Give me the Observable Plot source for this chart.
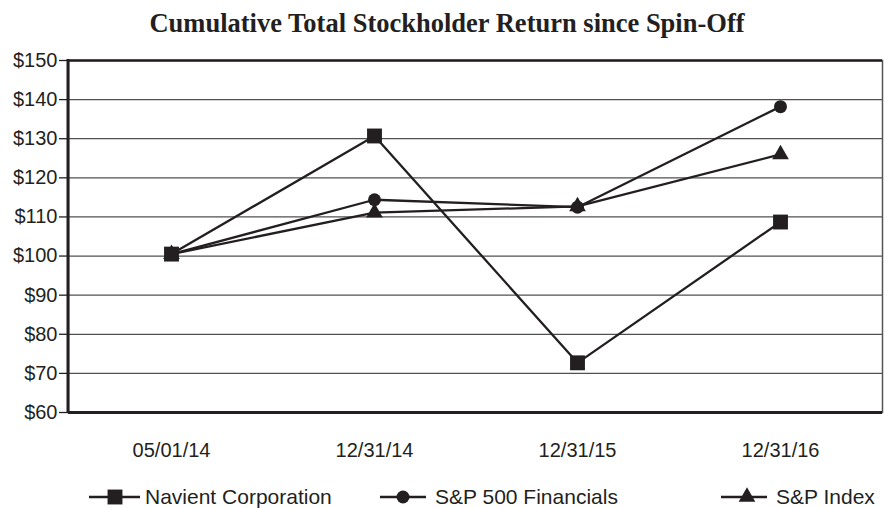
<!DOCTYPE html>
<html>
<head>
<meta charset="utf-8">
<script src="https://cdn.jsdelivr.net/npm/d3@7"></script>
<script src="https://cdn.jsdelivr.net/npm/@observablehq/plot@0.6"></script>
<style>
  body { margin: 0; background: #fff; }
  #wrap { position: relative; width: 884px; height: 508px; overflow: hidden;
          font-family: "Liberation Sans", Arial, Helvetica, sans-serif; color: #231f20; }
  #title { position: absolute; left: 0; width: 894px; top: 7px; text-align: center;
           font-family: "Liberation Serif", "Times New Roman", serif; font-weight: bold; font-size: 26.5px; line-height: 32px; }
  #chart { position: absolute; left: 0; top: 0; }
  .leg { position: absolute; top: 484px; height: 26px; display: flex; align-items: center; font-size: 21px; white-space: nowrap; }
  .leg svg { display: block; }
</style>
</head>
<body>
<div id="wrap">
  <div id="chart"></div>
  <div id="title">Cumulative Total Stockholder Return since Spin-Off</div>
  <div id="legend"></div>
</div>
<script>
const dates = ["05/01/14", "12/31/14", "12/31/15", "12/31/16"];
const seriesNames = ["Navient Corporation", "S&P 500 Financials", "S&P Index"];
const navient = [100.5, 130.7, 72.7, 108.7];
const financials = [100.5, 114.4, 112.5, 138.2];
const spIndex = [100.5, 111.1, 112.7, 126.0];
const yTicks = [60, 70, 80, 90, 100, 110, 120, 130, 140, 150];

const ink = "#231f20";
const seriesValues = [navient, financials, spIndex];
const data = [];
seriesNames.forEach((s, i) => dates.forEach((d, j) => data.push({series: s, date: d, value: seriesValues[i][j]})));
const symbols = {"Navient Corporation": "square", "S&P 500 Financials": "circle", "S&P Index": "triangle"};
const radii = {"Navient Corporation": 8.4, "S&P 500 Financials": 6.5, "S&P Index": 6.2};

const dotMarks = [...seriesNames].reverse().map(s =>
  Plot.dot(data.filter(d => d.series === s), {x: "date", y: "value", symbol: () => symbols[s], r: radii[s], fill: ink, stroke: "none"})
);

const chart = Plot.plot({
  width: 884,
  height: 508,
  marginTop: 60,
  marginBottom: 96,
  marginLeft: 68,
  marginRight: 2,
  style: {background: "transparent", color: ink, fontFamily: "'Liberation Sans', Arial, sans-serif"},
  x: {type: "point", domain: dates, padding: 0.5, label: null},
  y: {domain: [60, 150], label: null},
  symbol: {type: "identity"},
  marks: [
    Plot.ruleY(yTicks.slice(1, -1), {stroke: "#505050", strokeWidth: 1.3}),
    Plot.frame({stroke: "#555", strokeWidth: 1.5}),
    Plot.ruleY([150], {stroke: ink, strokeWidth: 2.5}),
    Plot.ruleY([60], {stroke: ink, strokeWidth: 3}),
    Plot.axisY({ticks: yTicks, tickSize: 9, tickPadding: 2, tickFormat: d => "$" + d, fontSize: 20, label: null, strokeWidth: 1.3}),
    Plot.axisX({tickSize: 0, tickPadding: 30, fontSize: 20, label: null}),
    Plot.line(data, {x: "date", y: "value", z: "series", stroke: ink, strokeWidth: 2.3}),
    ...dotMarks
  ]
});
// thick left border
const svg = d3.select(chart);
svg.append("line").attr("x1", 68).attr("x2", 68).attr("y1", 59).attr("y2", 413).attr("stroke", ink).attr("stroke-width", 3);
document.getElementById("chart").appendChild(chart);

// legend
const legendPos = [
  {left: 89, w: 51, cx: 26, gap: 5},
  {left: 380, w: 46, cx: 23, gap: 9},
  {left: 721, w: 46, cx: 26, gap: 9}
];
const legend = document.getElementById("legend");
seriesNames.forEach((s, i) => {
  const p = legendPos[i];
  const div = document.createElement("div");
  div.className = "leg";
  div.style.left = p.left + "px";
  const r = radii[s];
  const sym = d3.symbol(d3["symbol" + symbols[s][0].toUpperCase() + symbols[s].slice(1)], Math.PI * r * r)();
  div.innerHTML = `<svg width="${p.w}" height="26"><line x1="0" x2="${p.w}" y1="13" y2="13" stroke="${ink}" stroke-width="2.5"/>` +
    `<path d="${sym}" transform="translate(${p.cx},13)" fill="${ink}"/></svg><span style="margin-left:${p.gap}px">${s.replace("&", "&amp;")}</span>`;
  legend.appendChild(div);
});
</script>
</body>
</html>
